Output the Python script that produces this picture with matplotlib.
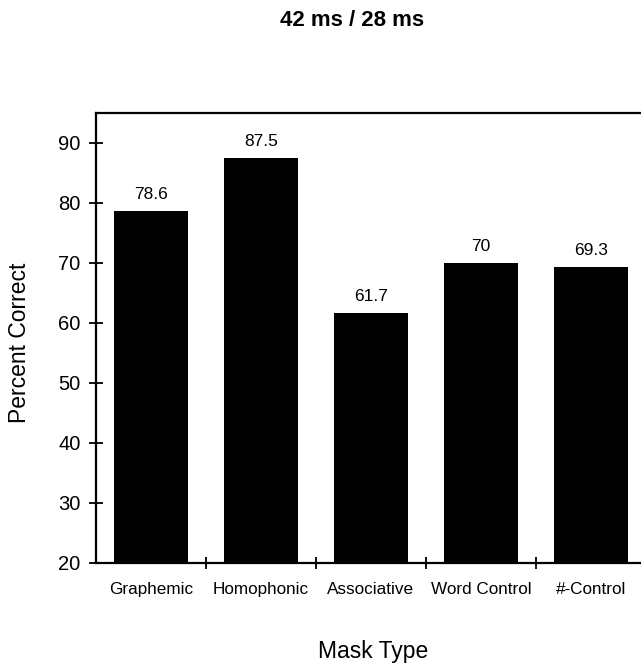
import numpy as np
import matplotlib
matplotlib.use('Agg')
import matplotlib.pyplot as plt

plt.rcParams['font.family'] = ['Liberation Sans', 'DejaVu Sans']

# data
mask_types = ['Graphemic', 'Homophonic', 'Associative', 'Word Control', '#-Control']
pct_correct = [78.6, 87.5, 61.7, 70, 69.3]
value_labels = ['78.6', '87.5', '61.7', '70', '69.3']
y_ticks = [20, 30, 40, 50, 60, 70, 80, 90]

fig = plt.figure(figsize=(6.41, 6.65), dpi=100)
ax = fig.add_axes([96/641, 102/665, 545/641, 450/665])

x = np.arange(len(mask_types))
ax.bar(x, pct_correct, width=0.67, color='black')

for xi, v, lab in zip(x, pct_correct, value_labels):
    ax.annotate(lab, (xi, v), xytext=(0, 6.5), textcoords='offset points',
                ha='center', va='bottom', fontsize=12.5)

ax.set_ylim(20, 95)
ax.set_xlim(-0.5, -0.5 + 545/110)
ax.set_yticks(y_ticks)
ax.tick_params(axis='y', direction='inout', length=10, width=1.3, pad=6,
               labelsize=14.5)

# labels at bar centres, tick marks between bars
ax.set_xticks(x)
ax.set_xticklabels(mask_types, fontsize=12.3)
ax.tick_params(axis='x', which='major', length=0, pad=14)
ax.set_xticks(x[:-1] + 0.5, minor=True)
ax.tick_params(axis='x', which='minor', direction='inout', length=9, width=1.3)

for side in ['left', 'bottom', 'top']:
    ax.spines[side].set_linewidth(1.6)
ax.spines['right'].set_visible(False)

ax.set_ylabel('Percent Correct', fontsize=16.5)
ax.yaxis.set_label_coords(-0.120, 0.49)
ax.set_xlabel('Mask Type', fontsize=16.5)
ax.xaxis.set_label_coords(0.508, -0.172)

fig.text(352/641, 1 - 21/665, '42 ms / 28 ms', ha='center', va='center',
         fontsize=16, fontweight='bold')

fig.savefig('out.png', dpi=100)
